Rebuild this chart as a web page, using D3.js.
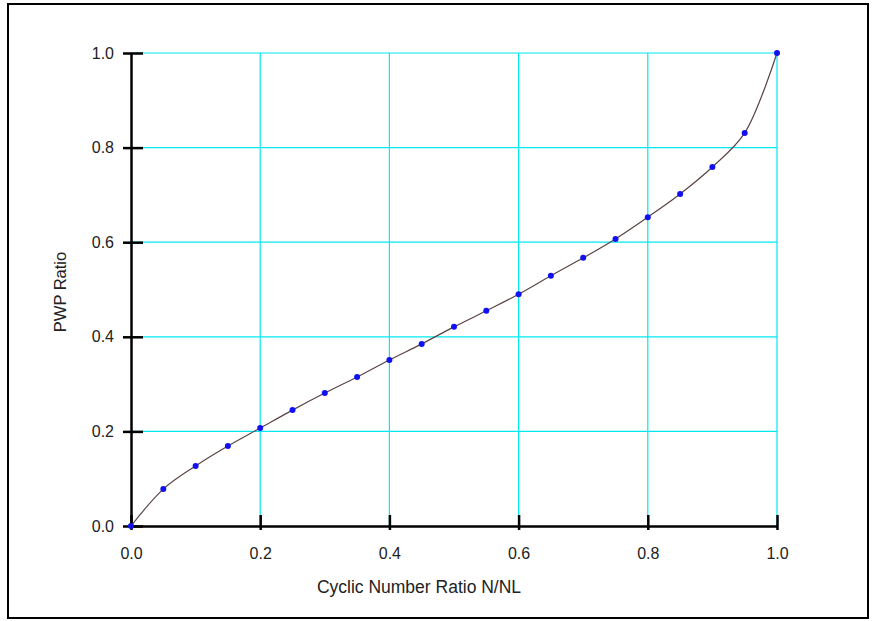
<!DOCTYPE html>
<html>
<head>
<meta charset="utf-8">
<script src="https://cdn.jsdelivr.net/npm/d3@7"></script>
<style>
  body { margin: 0; background: #fff; }
  svg text { font-family: "Liberation Sans", Arial, sans-serif; fill: #222; }
</style>
</head>
<body>
<div id="chart"></div>
<script>
// data
var cycleRatio = [0, 0.05, 0.1, 0.15, 0.2, 0.25, 0.3, 0.35, 0.4, 0.45, 0.5,
                  0.55, 0.6, 0.65, 0.7, 0.75, 0.8, 0.85, 0.9, 0.95, 1.0];
var pwpRatio = [0, 0.078, 0.127, 0.169, 0.207, 0.245, 0.281, 0.315, 0.351, 0.385, 0.421,
                0.455, 0.490, 0.529, 0.567, 0.607, 0.653, 0.702, 0.759, 0.831, 1.0];
var tickValues = [0, 0.2, 0.4, 0.6, 0.8, 1.0];

var width = 876, height = 621;
var plotLeft = 131, plotRight = 777, plotTop = 53, plotBottom = 526;

var svg = d3.select("#chart").append("svg")
  .attr("width", width)
  .attr("height", height);

// outer frame
svg.append("rect")
  .attr("x", 8).attr("y", 4)
  .attr("width", 860).attr("height", 614)
  .attr("fill", "none")
  .attr("stroke", "#000")
  .attr("stroke-width", 2);

var x = d3.scaleLinear().domain([0, 1]).range([plotLeft, plotRight]);
var y = d3.scaleLinear().domain([0, 1]).range([plotBottom, plotTop]);

// grid
svg.append("g").selectAll("line")
  .data(tickValues.slice(1))
  .enter().append("line")
  .attr("x1", d => x(d)).attr("x2", d => x(d))
  .attr("y1", plotTop).attr("y2", plotBottom)
  .attr("stroke", "#00e8f0").attr("stroke-width", 1.2);

svg.append("g").selectAll("line")
  .data(tickValues.slice(1))
  .enter().append("line")
  .attr("x1", plotLeft).attr("x2", plotRight)
  .attr("y1", d => y(d)).attr("y2", d => y(d))
  .attr("stroke", "#00e8f0").attr("stroke-width", 1.2);

// axes
var xAxis = d3.axisBottom(x).tickValues(tickValues).tickFormat(d3.format(".1f"))
  .tickSizeOuter(0).tickPadding(16);
var gx = svg.append("g").attr("transform", "translate(0," + plotBottom + ")").call(xAxis);

var yAxis = d3.axisLeft(y).tickValues(tickValues).tickFormat(d3.format(".1f"))
  .tickSizeOuter(0).tickPadding(11);
var gy = svg.append("g").attr("transform", "translate(" + plotLeft + ",0)").call(yAxis);

// ticks crossing the axis line a little
gx.selectAll(".tick line").attr("y1", 4).attr("y2", -11);
gy.selectAll(".tick line").attr("x1", -8).attr("x2", 12);

[gx, gy].forEach(function(g) {
  g.select(".domain").attr("stroke", "#000").attr("stroke-width", 2.5);
  g.selectAll(".tick line").attr("stroke", "#000").attr("stroke-width", 2.5);
  g.selectAll(".tick text").style("font-size", "16px").attr("fill", "#222");
});

// fitted curve
var line = d3.line()
  .x((d, i) => x(cycleRatio[i]))
  .y(d => y(d))
  .curve(d3.curveCatmullRom.alpha(0.5));

svg.append("path")
  .datum(pwpRatio)
  .attr("d", line)
  .attr("fill", "none")
  .attr("stroke", "#5a4444")
  .attr("stroke-width", 1.2);

// points
svg.append("g").selectAll("circle")
  .data(pwpRatio)
  .enter().append("circle")
  .attr("cx", (d, i) => x(cycleRatio[i]))
  .attr("cy", d => y(d))
  .attr("r", 3)
  .attr("fill", "#1010f0");

// axis titles
svg.append("text")
  .attr("x", 419)
  .attr("y", 593)
  .attr("text-anchor", "middle")
  .style("font-size", "17.5px")
  .text("Cyclic Number Ratio N/NL");

svg.append("text")
  .attr("transform", "translate(66,292) rotate(-90)")
  .attr("text-anchor", "middle")
  .style("font-size", "16.5px")
  .text("PWP Ratio");
</script>
</body>
</html>
